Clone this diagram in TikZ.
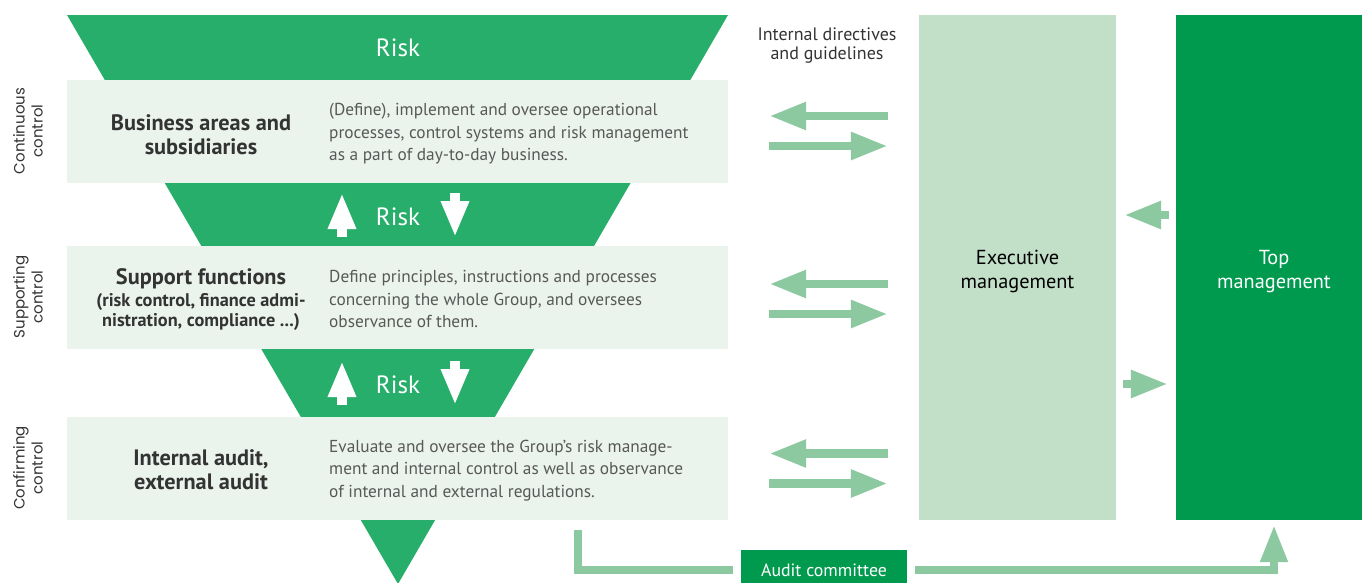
\documentclass[tikz,border=0pt]{standalone}
\usepackage{fontspec}
\setmainfont{PT Sans}
\newfontfamily\sidefont{Poppins}
\usetikzlibrary{arrows.meta}
\definecolor{riskgreen}{RGB}{39,174,106}
\definecolor{topgreen}{RGB}{0,154,78}
\definecolor{execgreen}{RGB}{194,224,200}
\definecolor{layergreen}{RGB}{234,244,236}
\definecolor{flowgreen}{RGB}{141,201,160}
\definecolor{headgray}{RGB}{51,51,51}
\definecolor{descgray}{RGB}{88,88,88}
\begin{document}
\begin{tikzpicture}[x=1pt, y=-1pt, inner sep=0pt,
  layer/.style={fill=layergreen, minimum width=661pt, minimum height=103pt},
  head/.style={text=headgray, align=center, font=\bfseries\fontsize{22.3}{24}\selectfont},
  desc/.style={anchor=west, text=descgray, align=left, font=\fontsize{17.3}{22.5}\selectfont},
  side/.style={rotate=90, text=headgray, align=center, font=\sidefont\fontsize{15}{18}\selectfont},
  risk/.style={text=white, font=\fontsize{25}{28}\selectfont},
  mgmt/.style={minimum width=#1, minimum height=505pt},
  mgmt text/.style={align=center, font=\fontsize{20.3}{24}\selectfont},
  flow/.style={draw=flowgreen, line width=8.5pt, -{Triangle[length=37pt, width=26pt]}},
  up down/.style={draw=white, line width=10pt, -{Triangle[length=36pt, width=26pt]}}]
\useasboundingbox (0,0) rectangle (1362,582);
\clip (0,0) rectangle (1362,582);
\fill[riskgreen] (67,15) -- (728,15) -- (398,584) -- cycle;
\node[layer] (b1) at (397.5,131.5) {};
\node[layer] (b2) at (397.5,297) {};
\node[layer] (b3) at (397.5,468.5) {};
\node[risk] (risk1) at (398,48) {Risk};
\node[risk] (risk2) at (398,217) {Risk};
\node[risk] (risk3) at (398,385) {Risk};
\foreach \r in {risk2,risk3}{
  \draw[up down] ([shift={(-56,20)}]\r.center) -- ([shift={(-56,-24)}]\r.center);
  \draw[up down] ([shift={(57,-24)}]\r.center) -- ([shift={(57,20)}]\r.center);
}
\node[side] (s1) at (28,131) {Continuous\\control};
\node[side] (s2) at (28,297) {Supporting\\control};
\node[side] (s3) at (28,468) {Confirming\\control};
\node[head] (h1) at (201,134.5) {Business areas and\\subsidiaries};
\node[head] (h2) at (201,278.5) {Support functions};
\node[head, font=\bfseries\fontsize{18.3}{19.5}\selectfont] (h2s) at (201,312) {(risk control, finance admi-\\nistration, compliance ...)};
\node[head] (h3) at (201,470) {Internal audit,\\external audit};
\node[desc] (d1) at (329,134) {(Define), implement and oversee operational\\processes, control systems and risk management\\as a part of day-to-day business.};
\node[desc] (d2) at (329,299) {Define principles, instructions and processes\\concerning the whole Group, and oversees\\observance of them.};
\node[desc] (d3) at (329,470.5) {Evaluate and oversee the Group’s risk manage-\\ment and internal control as well as observance\\of internal and external regulations.};
\node[text=headgray, align=center, font=\fontsize{18}{19}\selectfont] (guide) at (827,45.5) {Internal directives\\and guidelines};
\node[mgmt=197pt, fill=execgreen] (exec) at (1017.5,267.5) {};
\node[mgmt=196pt, fill=topgreen] (top) at (1274,267.5) {};
\node[mgmt text, text=black] (exectext) at (1017.5,271.5) {Executive\\management};
\node[mgmt text, text=white] (toptext) at (1274,271.5) {Top\\management};
\foreach \n/\up/\down in {1/15.5/-14.5, 2/13/-17, 3/15/-15}{
  \coordinate (in\n) at ([yshift=\up pt]b\n.east);
  \coordinate (out\n) at ([yshift=\down pt]b\n.east);
  \draw[flow, shorten <=31pt, shorten >=41pt] (in\n -| exec.west) -- (in\n);
  \draw[flow, shorten <=41pt, shorten >=31pt] (out\n) -- (out\n -| exec.west);
}
\draw[flow, shorten <=7pt, shorten >=8pt] ([yshift=52.5pt]top.west) -- ([yshift=52.5pt]exec.east);
\draw[flow, shorten <=7pt, shorten >=8pt] ([yshift=-116.5pt]exec.east) -- ([yshift=-116.5pt]top.west);
\node[fill=topgreen, text=white, minimum width=166pt, minimum height=40pt, font=\fontsize{17.8}{20}\selectfont] (audit) at (824,570) {Audit committee};
\coordinate (auditstart) at (578,530);
\draw[draw=flowgreen, line width=8pt, shorten >=8pt] (auditstart) |- (audit.west);
\draw[flow, line width=8pt, shorten <=8pt, shorten >=5pt] (audit.east) -| (top.south);
\end{tikzpicture}
\end{document}
